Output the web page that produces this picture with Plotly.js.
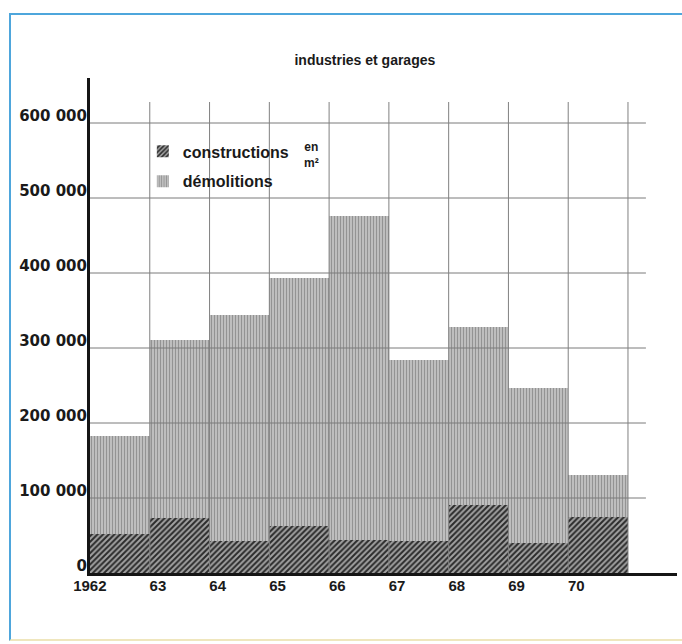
<!DOCTYPE html>
<html>
<head>
<meta charset="utf-8">
<script src="https://cdn.plot.ly/plotly-3.0.1.min.js"></script>
<style>
  html, body { margin: 0; padding: 0; background: #ffffff; }
  #wrap { position: relative; width: 682px; height: 644px; }
  #chart { width: 682px; height: 644px; }
  #frame { position: absolute; left: 9px; top: 13px; width: 680px; height: 624px;
           border-left: 2px solid #4ea6dc; border-top: 2px solid #4ea6dc;
           border-bottom: 2px solid #efe6bd; pointer-events: none; }
</style>
</head>
<body>
<div id="wrap">
  <div id="chart"></div>
  <div id="frame"></div>
</div>
<script>
// ---- data ----
const years = [1962, 1963, 1964, 1965, 1966, 1967, 1968, 1969, 1970];
const yearLabels = ['1962', '63', '64', '65', '66', '67', '68', '69', '70'];
// total height of each bar (démolitions, grey part reaches this level)
const demolitions = [183000, 311000, 344000, 393000, 476000, 284000, 328000, 247000, 131000];
// hatched part (constructions)
const constructions = [52000, 73000, 43000, 63000, 44000, 43000, 91000, 40000, 75000];
const yTickVals = [0, 100000, 200000, 300000, 400000, 500000, 600000];
const yTickText = ['0', '100 000', '200 000', '300 000', '400 000', '500 000', '600 000'];

const fontFam = 'Liberation Sans, Arial, sans-serif';
const yFontFam = 'DejaVu Sans, Liberation Sans, sans-serif';
const xCenters = years.map(y => y + 0.5);
const lastEdge = years[years.length - 1] + 1;

const traces = [
  {
    type: 'bar', name: 'démolitions', x: xCenters, y: demolitions, width: 1,
    legendgroup: 'd', legendrank: 2,
    marker: { color: '#b4b4b4', line: { width: 0 },
      pattern: { shape: '|', fgcolor: '#8f8f8f', bgcolor: '#bebebe', size: 3, solidity: 0.3 } },
    hoverinfo: 'skip'
  },
  {
    type: 'bar', name: 'constructions', x: xCenters, y: constructions, width: 1,
    legendgroup: 'c', legendrank: 1,
    marker: { color: '#555555', line: { width: 0 },
      pattern: { shape: '/', fgcolor: '#2b2b2b', bgcolor: '#a2a2a2', size: 4, solidity: 0.5 } },
    hoverinfo: 'skip'
  }
];

const shapes = [];
yTickVals.filter(v => v > 0).forEach(v => {
  shapes.push({ type: 'line', xref: 'x', yref: 'y', x0: years[0], x1: lastEdge + 0.3, y0: v, y1: v,
    layer: 'above', line: { color: '#7a7a7a', width: 1 } });
});
years.slice(1).concat([lastEdge]).forEach(e => {
  shapes.push({ type: 'line', xref: 'x', yref: 'y', x0: e, x1: e, y0: 0, y1: 628000,
    layer: 'above', line: { color: '#808080', width: 1 } });
});

const layout = {
  width: 682, height: 644,
  margin: { l: 90, r: 5, t: 78, b: 71 },
  paper_bgcolor: '#ffffff', plot_bgcolor: '#ffffff',
  barmode: 'overlay', bargap: 0,
  showlegend: true,
  title: { text: 'industries et garages', font: { family: fontFam, size: 14, color: '#1a1a1a', weight: 'bold' },
    xref: 'container', yref: 'container', x: 0.535, y: 0.907, xanchor: 'center', yanchor: 'middle' },
  xaxis: {
    range: [years[0], lastEdge + 0.82], tickvals: years, ticktext: yearLabels,
    showgrid: false, zeroline: false, showline: true, linewidth: 3, linecolor: '#151515',
    ticks: '', ticklabelposition: 'outside left', ticklabelshift: 18, ticklabelstandoff: -3,
    tickfont: { family: fontFam, size: 15, color: '#1a1a1a', weight: 'bold' }, fixedrange: true
  },
  yaxis: {
    range: [0, 660000], tickvals: yTickVals, ticktext: yTickText,
    showgrid: false, zeroline: false, showline: true, linewidth: 3, linecolor: '#151515',
    ticks: '', ticklabelstandoff: -3, ticklabelshift: -7,
    tickfont: { family: yFontFam, size: 15, color: '#1a1a1a', weight: 'bold' }, fixedrange: true
  },
  legend: {
    x: 0.09, y: 0.886, xanchor: 'left', yanchor: 'top', traceorder: 'grouped',
    bgcolor: 'rgba(255,255,255,0)', borderwidth: 0, itemwidth: 30, tracegroupgap: 6,
    font: { family: fontFam, size: 16, color: '#1a1a1a', weight: 'bold' }
  },
  annotations: [
    { text: 'en<br>m²', xref: 'paper', yref: 'paper', x: 0.378, y: 0.845, xanchor: 'center', yanchor: 'middle',
      showarrow: false, font: { family: fontFam, size: 12, color: '#1a1a1a', weight: 'bold' } }
  ],
  shapes: shapes
};

Plotly.newPlot('chart', traces, layout, { displayModeBar: false, staticPlot: true });
</script>
</body>
</html>
